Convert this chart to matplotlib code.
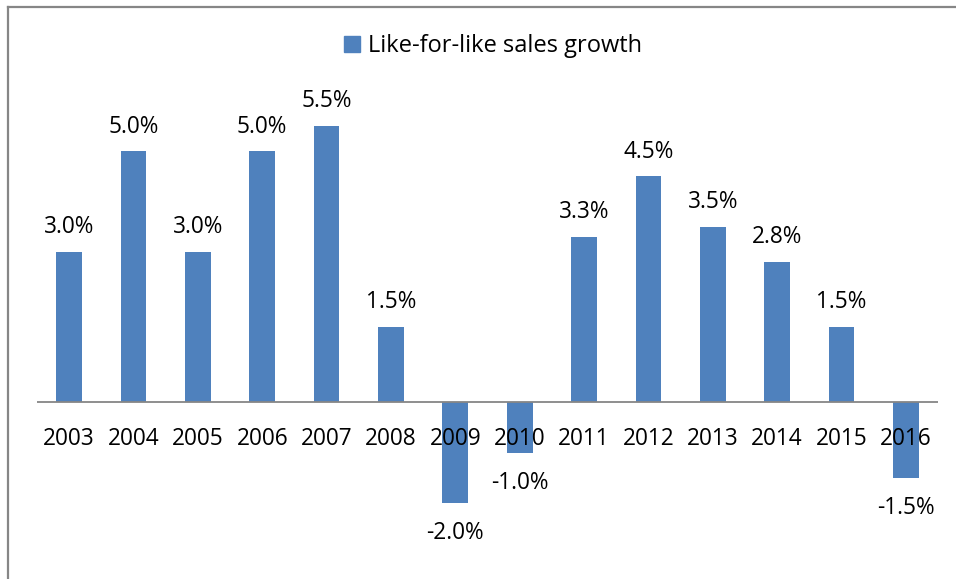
import matplotlib
matplotlib.use("Agg")
import matplotlib.pyplot as plt
from matplotlib.lines import Line2D
import numpy as np

years = ["2003", "2004", "2005", "2006", "2007", "2008", "2009",
         "2010", "2011", "2012", "2013", "2014", "2015", "2016"]
growth = [3.0, 5.0, 3.0, 5.0, 5.5, 1.5, -2.0, -1.0, 3.3, 4.5, 3.5, 2.8, 1.5, -1.5]
series_name = "Like-for-like sales growth"

BAR_COLOR = "#4F81BD"
FONT = "Open Sans"
SIZE = 16.3

plt.rcParams["font.family"] = [FONT, "DejaVu Sans"]

fig = plt.figure(figsize=(9.56, 5.79), dpi=100)
ax = fig.add_axes([37 / 956, 26 / 579, 901 / 956, 477 / 579])

x = np.arange(len(years))
ax.bar(x, growth, width=0.40, color=BAR_COLOR, zorder=2)
ax.axhline(0, color="#868686", lw=1.3, zorder=3)

ax.set_xlim(-0.5, len(years) - 0.5)
ax.set_ylim(-3.0, 6.5)
ax.axis("off")

# category names sit just under the zero line, drawn over the negative bars
for xi, year in zip(x, years):
    ax.annotate(year, (xi, 0), xytext=(0, -31), textcoords="offset points",
                ha="center", va="baseline", fontsize=SIZE, color="black", zorder=4)

# value labels above positive bars, below negative ones
for xi, val in zip(x, growth):
    off = 13.5 if val >= 0 else -26
    ax.annotate(f"{val:.1f}%", (xi, val), xytext=(0, off), textcoords="offset points",
                ha="center", va="baseline", fontsize=SIZE, color="black", zorder=4)

handle = Line2D([], [], marker="s", linestyle="none", markersize=11,
                markerfacecolor=BAR_COLOR, markeredgecolor=BAR_COLOR)
fig.legend([handle], [series_name], loc="center", bbox_to_anchor=(491 / 956, 1 - 46 / 579),
           frameon=False, fontsize=17, handletextpad=0.2, handlelength=1.0)

# chart-area frame, only the top and left edges show
fig.add_artist(Line2D([7.5 / 956, 7.5 / 956], [0, 1 - 6.5 / 579], transform=fig.transFigure,
                      color="#868686", lw=1.6))
fig.add_artist(Line2D([7.5 / 956, 1], [1 - 6.5 / 579, 1 - 6.5 / 579], transform=fig.transFigure,
                      color="#868686", lw=1.6))

fig.savefig("out.png", dpi=100, facecolor="white")
